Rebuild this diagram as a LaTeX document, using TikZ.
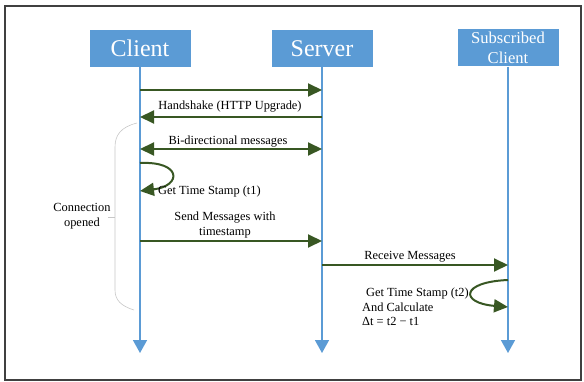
\documentclass[tikz,border=0pt]{standalone}
\usepackage{fontspec}
\setmainfont{Liberation Serif}
\usetikzlibrary{positioning,arrows.meta}

\definecolor{lifeblue}{HTML}{5B9BD5}
\definecolor{msggreen}{HTML}{385723}

\begin{document}
\begin{tikzpicture}[
  x=1pt, y=-1pt,
  font=\fontsize{12.4}{14.5}\selectfont,
  obj/.style={rectangle, fill=lifeblue, text=white, minimum height=37pt, minimum width=101pt,
              inner sep=1pt, align=center, font=\fontsize{24}{26}\selectfont},
  life/.style={draw=lifeblue, line width=1.6pt, -{Triangle[length=13pt,width=14pt]}},
  msg/.style={draw=msggreen, line width=2pt, -{Triangle[length=14pt,width=13pt]}},
  lbl/.style={inner sep=1pt, align=center},
  brace/.style={draw=black!22, line width=0.6pt}
]
\useasboundingbox (0,0) rectangle (584,382);
\draw[black!75, line width=1.5pt] (5,6) rectangle (581,380);

% objects
\node[obj] (client) at (140,48.5) {Client};
\node[obj] (server) at (322,48.5) {Server};
\node[obj, font=\fontsize{16.6}{20}\selectfont] (sub) at (508,48) {Subscribed\\Client};

% lifeline ends
\coordinate (cend) at (client.south |- 0,353);
\coordinate (send) at (server.south |- 0,353);
\coordinate (bend) at (sub.south |- 0,353);
\draw[life] (client.south) -- (cend);
\draw[life] (server.south) -- (send);
\draw[life] (sub.south) -- (bend);

% points on the lifelines
\coordinate (c1) at (client.south |- 0,90);   \coordinate (s1) at (server.south |- 0,90);
\coordinate (c2) at (client.south |- 0,117);  \coordinate (s2) at (server.south |- 0,117);
\coordinate (c3) at (client.south |- 0,149);  \coordinate (s3) at (server.south |- 0,149);
\coordinate (c4) at (client.south |- 0,163);  \coordinate (c5) at (client.south |- 0,191);
\coordinate (c6) at (client.south |- 0,241);  \coordinate (s6) at (server.south |- 0,241);
\coordinate (s7) at (server.south |- 0,265);  \coordinate (b7) at (sub.south |- 0,265);
\coordinate (b8) at (sub.south |- 0,280);     \coordinate (b9) at (sub.south |- 0,307);

% messages
\draw[msg] (c1) -- (s1);
\draw[msg] (s2) -- (c2);
\node[lbl] (hs) at (230,107) {Handshake (HTTP Upgrade)};
\draw[msg, {Triangle[length=14pt,width=13pt]}-{Triangle[length=14pt,width=13pt]}] (c3) -- (s3);
\node[lbl] (bi) at (228,142) {Bi-directional messages};
\draw[msg] (c4) .. controls (182,161) and (182,186) .. (c5);
\node[lbl, anchor=west] (t1) at (157,192) {Get Time Stamp (t1)};
\draw[msg] (c6) -- (s6);
\node[lbl] (sm) at (225,225) {Send Messages with\\timestamp};
\draw[msg] (s7) -- (b7);
\node[lbl] (rm) at (410,257) {Receive Messages};
\draw[msg] (b8) .. controls (460,282) and (460,303) .. (b9);
\node[lbl, align=left, anchor=north west] (t2) at (361,287)
  {\hspace*{4pt}Get Time Stamp (t2)\\And Calculate\\Δt = t2 − t1};

% connection brace
\draw[brace] (137,123) .. controls (121,127) and (115,135) .. (115,147) -- (115,290)
  .. controls (115,300) and (121,306) .. (134,310);
\draw[brace] (115,217) -- (108,217);
\node[lbl] (co) at (82,216) {Connection\\opened};
\end{tikzpicture}
\end{document}
